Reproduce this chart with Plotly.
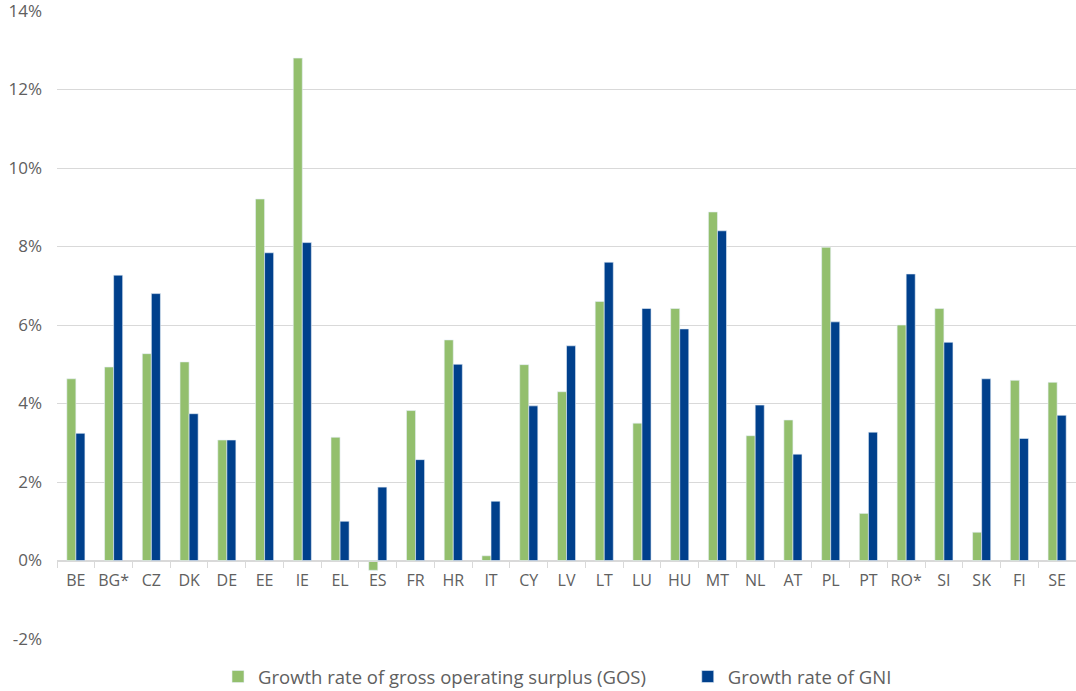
import plotly.graph_objs as go

# data (percent)
countries = ["BE", "BG*", "CZ", "DK", "DE", "EE", "IE", "EL", "ES", "FR", "HR", "IT", "CY",
             "LV", "LT", "LU", "HU", "MT", "NL", "AT", "PL", "PT", "RO*", "SI", "SK", "FI", "SE"]
gos_growth = [4.63, 4.93, 5.27, 5.06, 3.07, 9.21, 12.80, 3.14, -0.25, 3.82, 5.62, 0.12, 4.99,
              4.30, 6.60, 3.50, 6.42, 8.88, 3.18, 3.58, 7.98, 1.20, 6.00, 6.42, 0.72, 4.59, 4.54]
gni_growth = [3.24, 7.27, 6.80, 3.74, 3.07, 7.84, 8.10, 1.00, 1.87, 2.57, 5.00, 1.51, 3.94,
              5.47, 7.60, 6.42, 5.90, 8.40, 3.96, 2.71, 6.08, 3.27, 7.30, 5.56, 4.63, 3.11, 3.70]
y_ticks = [-2, 0, 2, 4, 6, 8, 10, 12, 14]

colors = {
    "green": "#93BF6D",
    "blue": "#00408C",
    "grid": "#D9D9D9",
    "text": "#606060",
}

trace1 = go.Bar(x=countries, y=gos_growth, name="Growth rate of gross operating surplus (GOS)",
                marker=dict(color=colors["green"], line=dict(color="#E8F0F8", width=0.6)),
                legend="legend")
trace2 = go.Bar(x=countries, y=gni_growth, name="Growth rate of GNI",
                marker=dict(color=colors["blue"], line=dict(color="#E8F0F8", width=0.6)),
                legend="legend2")

font = dict(family="Open Sans, Noto Sans, sans-serif", size=17, color=colors["text"])
xfont = dict(font, size=16)
legend_font = dict(font, size=18.5)

# one legend per series so the gap between the two entries matches the original
legend_common = dict(orientation="h", xanchor="left", y=-0.0605, yanchor="middle",
                     font=legend_font, bgcolor="rgba(0,0,0,0)")

layout = go.Layout(
    width=1076, height=691,
    barmode="group", bargap=0.52, bargroupgap=0,
    plot_bgcolor="white", paper_bgcolor="white",
    margin=dict(l=57, r=0, t=11, b=52, autoexpand=False),
    font=font,
    xaxis=dict(type="category", anchor="free", position=78 / 628,
               showline=True, linecolor=colors["grid"], linewidth=1,
               ticks="outside", tickson="boundaries", ticklen=6, tickcolor=colors["grid"],
               ticklabelstandoff=5, tickangle=0, showgrid=False, tickfont=xfont),
    yaxis=dict(range=[-2, 14], tickvals=y_ticks, ticktext=[f"{v}%" for v in y_ticks],
               showgrid=True, gridcolor=colors["grid"], gridwidth=1,
               zeroline=False, showline=False, ticks="", ticklabelstandoff=14,
               ticklabeloverflow="allow", tickfont=font),
    legend=dict(legend_common, x=0.158),
    legend2=dict(legend_common, x=0.619),
    showlegend=True,
)

fig = go.Figure(data=[trace1, trace2], layout=layout)
# page body has a default 8px margin; drop it so the chart sits at the window edge
fig.write_html("out.html", config={"displayModeBar": False},
               post_script="document.body.style.margin='0';")
